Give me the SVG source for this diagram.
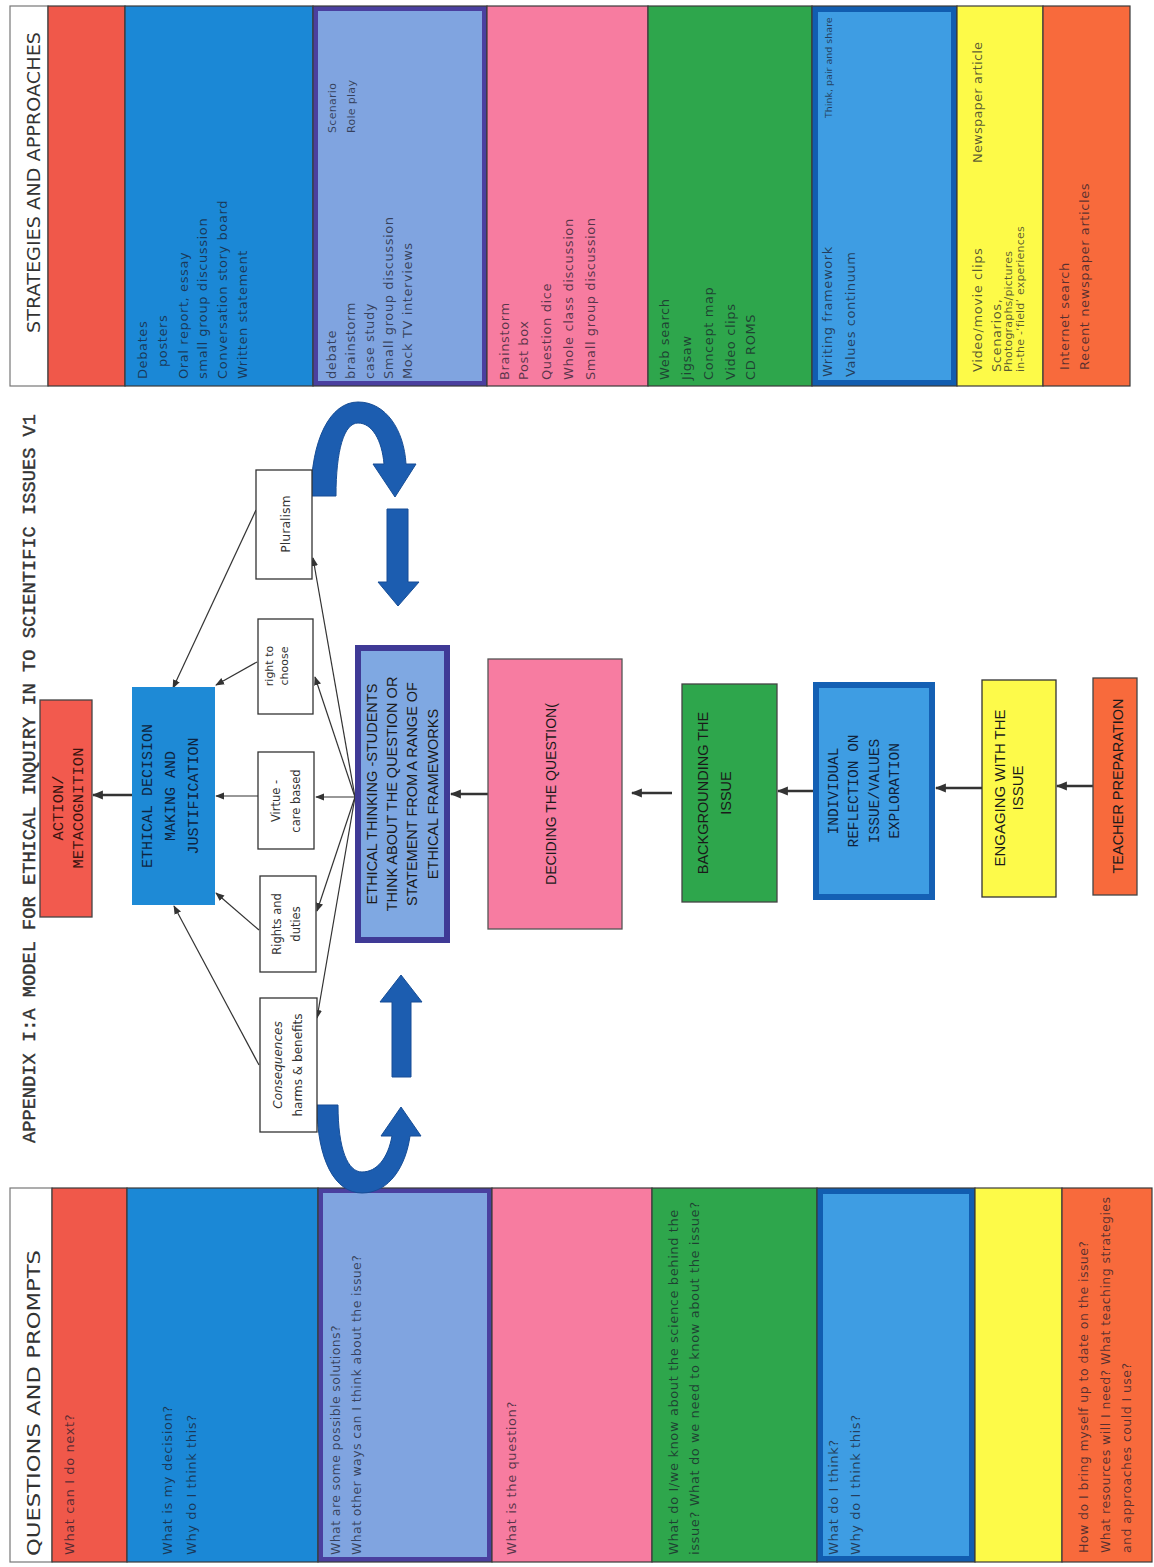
<svg xmlns="http://www.w3.org/2000/svg" width="1154" height="1567" viewBox="0 0 1154 1567">
<defs>
<style>
.cell{stroke:#3a3a3a;stroke-width:1.2}
.hdr{fill:#fff;stroke:#777;stroke-width:1.2}
.st{font-family:"DejaVu Sans",sans-serif;font-size:13px;letter-spacing:0.6px;fill:#1a1a2a;fill-opacity:.72}
.hd{font-family:"DejaVu Sans",sans-serif;font-size:18px;fill:#333}
.fw{fill:#fff;stroke:#333;stroke-width:1.3}
.fwt{font-family:"DejaVu Sans",sans-serif;fill:#333;text-anchor:middle}
.bt{font-family:"Liberation Sans",Arial,sans-serif;fill:#1a1a1a;text-anchor:middle}
.mt{font-family:"Liberation Mono","Courier New",monospace;fill:#1a1a1a;text-anchor:middle}
.thin{stroke:#333;stroke-width:1.2;fill:none;marker-end:url(#ah)}
.flow{stroke:#333;stroke-width:2.6;fill:none;marker-end:url(#ahb)}
.big{fill:#1C5DB0;stroke:#164d96;stroke-width:1}
</style>
<marker id="ah" viewBox="0 0 10 10" refX="9" refY="5" markerWidth="9" markerHeight="9" markerUnits="userSpaceOnUse" orient="auto"><path d="M0,1 L10,5 L0,9 z" fill="#333"/></marker>
<marker id="ahb" viewBox="0 0 10 10" refX="9" refY="5" markerWidth="11" markerHeight="11" markerUnits="userSpaceOnUse" orient="auto"><path d="M0,1 L10,5 L0,9 z" fill="#333"/></marker>
</defs>
<rect x="0" y="0" width="1154" height="1567" fill="#fff"/>

<text transform="translate(35 1143) rotate(-90)" font-family="Liberation Mono,monospace" font-size="18.5" fill="#333" stroke="#333" stroke-width="0.4" textLength="729" lengthAdjust="spacingAndGlyphs">APPENDIX I:A MODEL FOR ETHICAL INQUIRY IN TO SCIENTIFIC ISSUES V1</text>

<g id="strategies-table">
<rect class="hdr" x="10" y="6" width="38" height="380"/>
<rect class="cell" x="48" y="6" width="77" height="380" fill="#F0584A"/>
<rect class="cell" x="125" y="6" width="188" height="380" fill="#1B88D6"/>
<rect class="cell" x="313" y="6" width="174" height="380" fill="#4A3F9F"/>
<rect x="318" y="11" width="164" height="370" fill="#80A4E0"/>
<rect class="cell" x="487" y="6" width="161" height="380" fill="#F77CA0"/>
<rect class="cell" x="648" y="6" width="164" height="380" fill="#2EA64C"/>
<rect class="cell" x="812" y="6" width="145" height="380" fill="#115DB0"/>
<rect x="818" y="12" width="133" height="368" fill="#3E9DE3"/>
<rect class="cell" x="957" y="6" width="86" height="380" fill="#FDFA48"/>
<rect class="cell" x="1043" y="6" width="87" height="380" fill="#F86A3C"/>
<text class="hd" transform="translate(40 333) rotate(-90)" textLength="301" lengthAdjust="spacingAndGlyphs">STRATEGIES AND APPROACHES</text>
<text class="st" transform="translate(147 379) rotate(-90)"><tspan x="0" y="0">Debates</tspan><tspan x="12" y="20">posters</tspan><tspan x="0" y="41">Oral report, essay</tspan><tspan x="0" y="60">small group discussion</tspan><tspan x="0" y="80">Conversation story board</tspan><tspan x="0" y="100">Written statement</tspan></text>
<text class="st" transform="translate(336 379) rotate(-90)"><tspan x="0" y="0">debate</tspan><tspan x="0" y="19">brainstorm</tspan><tspan x="0" y="38">case study</tspan><tspan x="0" y="57">Small group discussion</tspan><tspan x="0" y="76">Mock TV interviews</tspan></text>
<text class="st" transform="translate(336 133) rotate(-90)" style="font-size:11px;letter-spacing:0.3px"><tspan x="0" y="0">Scenario</tspan><tspan x="0" y="19">Role play</tspan></text>
<text class="st" transform="translate(509 380) rotate(-90)"><tspan x="0" y="0">Brainstorm</tspan><tspan x="0" y="19">Post box</tspan><tspan x="0" y="42">Question dice</tspan><tspan x="0" y="64">Whole class discussion</tspan><tspan x="0" y="86">Small group discussion</tspan></text>
<text class="st" transform="translate(669 380) rotate(-90)"><tspan x="0" y="0">Web search</tspan><tspan x="0" y="22">Jigsaw</tspan><tspan x="0" y="44">Concept map</tspan><tspan x="0" y="66">Video clips</tspan><tspan x="0" y="86">CD ROMS</tspan></text>
<text class="st" transform="translate(832 377) rotate(-90)"><tspan x="0" y="0">Writing framework</tspan><tspan x="0" y="23">Values continuum</tspan></text>
<text class="st" transform="translate(832 118) rotate(-90)" style="font-size:9.5px;letter-spacing:0px">Think, pair and share</text>
<text class="st" transform="translate(982 372) rotate(-90)"><tspan x="0" y="0">Video/movie clips</tspan><tspan x="0" y="19">Scenarios,</tspan><tspan x="0" y="30" style="font-size:11px;letter-spacing:0.2px">Photographs/pictures</tspan><tspan x="0" y="42" style="font-size:11px;letter-spacing:0.2px">in-the -‘field’ experiences</tspan></text>
<text class="st" transform="translate(982 163) rotate(-90)" style="letter-spacing:0.2px">Newspaper article</text>
<text class="st" transform="translate(1069 370) rotate(-90)"><tspan x="0" y="0">Internet search</tspan><tspan x="0" y="20">Recent newspaper articles</tspan></text>
</g>

<g id="questions-table">
<rect class="hdr" x="10" y="1188" width="42" height="374"/>
<rect class="cell" x="52" y="1188" width="75" height="374" fill="#F0584A"/>
<rect class="cell" x="127" y="1188" width="191" height="374" fill="#1B88D6"/>
<rect class="cell" x="318" y="1188" width="174" height="374" fill="#4A3F9F"/>
<rect x="323" y="1193" width="164" height="364" fill="#80A4E0"/>
<rect class="cell" x="492" y="1188" width="160" height="374" fill="#F77CA0"/>
<rect class="cell" x="652" y="1188" width="165" height="374" fill="#2EA64C"/>
<rect class="cell" x="817" y="1188" width="158" height="374" fill="#115DB0"/>
<rect x="823" y="1194" width="146" height="362" fill="#3E9DE3"/>
<rect class="cell" x="975" y="1188" width="87" height="374" fill="#FDFA48"/>
<rect class="cell" x="1062" y="1188" width="90" height="374" fill="#F86A3C"/>
<text class="hd" transform="translate(40 1556) rotate(-90)" textLength="306" lengthAdjust="spacingAndGlyphs">QUESTIONS AND PROMPTS</text>
<text class="st" transform="translate(74 1555) rotate(-90)">What can I do next?</text>
<text class="st" transform="translate(172 1555) rotate(-90)"><tspan x="0" y="0">What is my decision?</tspan><tspan x="0" y="24">Why do I think this?</tspan></text>
<text class="st" transform="translate(340 1555) rotate(-90)" style="font-size:12.5px;letter-spacing:0.4px"><tspan x="0" y="0">What are some possible solutions?</tspan><tspan x="0" y="21">What other ways can I think about the issue?</tspan></text>
<text class="st" transform="translate(516 1555) rotate(-90)">What is the question?</text>
<text class="st" transform="translate(678 1555) rotate(-90)"><tspan x="0" y="0">What do I/we know about the science behind the</tspan><tspan x="0" y="21">issue? What do we need to know about the issue?</tspan></text>
<text class="st" transform="translate(838 1555) rotate(-90)"><tspan x="0" y="0">What do I think?</tspan><tspan x="0" y="22">Why do I think this?</tspan></text>
<text class="st" transform="translate(1088 1553) rotate(-90)" style="font-size:12.5px;letter-spacing:0.45px"><tspan x="0" y="0">How do I bring myself up to date on the issue?</tspan><tspan x="0" y="21.5">What resources will I need? What teaching strategies</tspan><tspan x="0" y="43">and approaches could I use?</tspan></text>
</g>

<g id="connectors">
<line class="flow" x1="132" y1="795" x2="93" y2="795"/>
<line class="flow" x1="488" y1="794" x2="451" y2="794"/>
<line class="flow" x1="672" y1="793" x2="632" y2="793"/>
<line class="flow" x1="813" y1="791" x2="778" y2="791"/>
<line class="flow" x1="982" y1="788" x2="936" y2="788"/>
<line class="flow" x1="1093" y1="786" x2="1057" y2="786"/>
<line class="thin" x1="355" y1="797" x2="313" y2="558"/>
<line class="thin" x1="355" y1="797" x2="315" y2="677"/>
<line class="thin" x1="355" y1="797" x2="316" y2="797"/>
<line class="thin" x1="355" y1="797" x2="317" y2="911"/>
<line class="thin" x1="355" y1="797" x2="317" y2="1018"/>
<line class="thin" x1="259" y1="1065" x2="174" y2="906"/>
<line class="thin" x1="259" y1="930" x2="216" y2="893"/>
<line class="thin" x1="258" y1="796" x2="216" y2="796"/>
<line class="thin" x1="257" y1="662" x2="216" y2="685"/>
<line class="thin" x1="256" y1="510" x2="173" y2="688"/>
<path class="big" d="M311 496 C311 440 330 402 358 402 C386 402 404 430 406 464 L416 464 L395 497 L373 464 L384 464 C382 440 372 423 358 423 C344 423 336 450 336 496 Z"/>
<path class="big" d="M387 509 L408 509 L408 582 L419 582 L398 606 L378 582 L387 582 Z"/>
<path class="big" d="M392 1077 L411 1077 L411 1002 L422 1002 L401 975 L380 1002 L392 1002 Z"/>
<path class="big" d="M317 1105 C317 1160 335 1193 362 1193 C390 1193 406 1165 410 1136 L421 1136 L401 1107 L381 1136 L392 1136 C388 1158 377 1172 362 1172 C348 1172 338 1150 338 1105 Z"/>
</g>

<g id="action">
<rect x="40" y="700" width="52" height="217" fill="#F25A4E" stroke="#444" stroke-width="1.3"/>
<text class="mt" transform="translate(63 808) rotate(-90)" style="font-size:15.5px;fill:#3a1410"><tspan x="0" y="0">ACTION/</tspan><tspan x="0" y="20">METACOGNITION</tspan></text>
</g>
<g id="decision">
<rect x="132" y="687" width="83" height="218" fill="#1E8AD6"/>
<text class="mt" transform="translate(152 796) rotate(-90)" style="font-size:15px;fill:#0e2440"><tspan x="0" y="0">ETHICAL DECISION</tspan><tspan x="0" y="23">MAKING AND</tspan><tspan x="0" y="46">JUSTIFICATION</tspan></text>
</g>
<g id="consequences">
<rect class="fw" x="260" y="998" width="57" height="134"/>
<text class="fwt" transform="translate(282 1065) rotate(-90)" style="font-size:12px"><tspan x="0" y="0" font-style="italic">Consequences</tspan><tspan x="0" y="20">harms &amp; benefits</tspan></text>
</g>
<g id="rights">
<rect class="fw" x="260" y="876" width="56" height="96"/>
<text class="fwt" transform="translate(281 924) rotate(-90)" style="font-size:11.5px"><tspan x="0" y="0">Rights and</tspan><tspan x="0" y="19">duties</tspan></text>
</g>
<g id="virtue">
<rect class="fw" x="258" y="752" width="56" height="97"/>
<text class="fwt" transform="translate(280 801) rotate(-90)" style="font-size:11.5px"><tspan x="0" y="0">Virtue -</tspan><tspan x="0" y="20">care based</tspan></text>
</g>
<g id="right-to-choose">
<rect class="fw" x="258" y="619" width="55" height="95"/>
<text class="fwt" transform="translate(273 666) rotate(-90)" style="font-size:11px"><tspan x="0" y="0">right to</tspan><tspan x="0" y="15">choose</tspan></text>
</g>
<g id="pluralism">
<rect class="fw" x="256" y="470" width="56" height="109"/>
<text class="fwt" transform="translate(290 524) rotate(-90)" style="font-size:12.5px">Pluralism</text>
</g>
<g id="thinking">
<rect x="358" y="648" width="89" height="292" fill="#7FA8E2" stroke="#3F3A96" stroke-width="6"/>
<text class="bt" transform="translate(377 794) rotate(-90)" style="font-size:14.5px"><tspan x="0" y="0">ETHICAL THINKING -STUDENTS</tspan><tspan x="0" y="20">THINK ABOUT THE QUESTION OR</tspan><tspan x="0" y="40">STATEMENT FROM A RANGE OF</tspan><tspan x="0" y="61">ETHICAL FRAMEWORKS</tspan></text>
</g>
<g id="deciding">
<rect x="488" y="659" width="134" height="270" fill="#F77CA1" stroke="#555" stroke-width="1.3"/>
<text class="bt" transform="translate(556 794) rotate(-90)" style="font-size:14px">DECIDING THE QUESTION(</text>
</g>
<g id="backgrounding">
<rect x="682" y="684" width="95" height="218" fill="#2EA64C" stroke="#444" stroke-width="1.3"/>
<text class="bt" transform="translate(708 793) rotate(-90)" style="font-size:14.5px"><tspan x="0" y="0">BACKGROUNDING THE</tspan><tspan x="0" y="23">ISSUE</tspan></text>
</g>
<g id="individual">
<rect x="816" y="685" width="116" height="212" fill="#3E9DE3" stroke="#1460B4" stroke-width="6"/>
<text class="mt" transform="translate(838 791) rotate(-90)" style="font-size:14.5px;fill:#10223a"><tspan x="0" y="0">INDIVIDUAL</tspan><tspan x="0" y="20">REFLECTION ON</tspan><tspan x="0" y="41">ISSUE/VALUES</tspan><tspan x="0" y="61">EXPLORATION</tspan></text>
</g>
<g id="engaging">
<rect x="982" y="680" width="74" height="217" fill="#FDFA4A" stroke="#333" stroke-width="1.3"/>
<text class="bt" transform="translate(1005 788) rotate(-90)" style="font-size:15px"><tspan x="0" y="0">ENGAGING WITH THE</tspan><tspan x="0" y="18">ISSUE</tspan></text>
</g>
<g id="teacher">
<rect x="1093" y="678" width="44" height="217" fill="#F86A3C" stroke="#444" stroke-width="1.3"/>
<text class="bt" transform="translate(1123 786) rotate(-90)" style="font-size:14.5px">TEACHER PREPARATION</text>
</g>
</svg>
